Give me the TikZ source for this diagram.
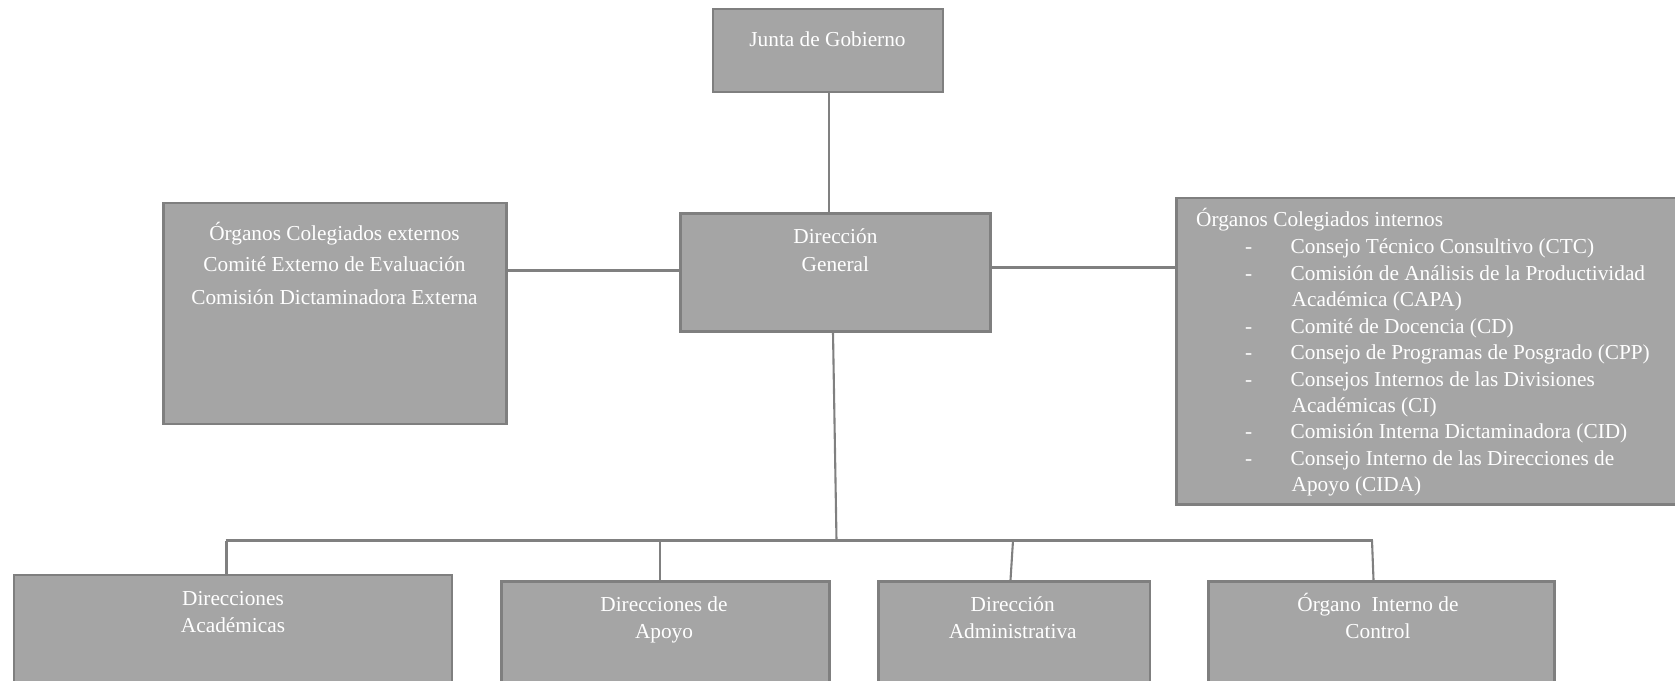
\documentclass[tikz,border=0pt]{standalone}
\usepackage{fontspec}
\setmainfont{Liberation Serif}
\definecolor{boxfill}{HTML}{A5A5A5}
\definecolor{boxline}{HTML}{7F7F7F}
\definecolor{conncol}{HTML}{808080}
\begin{document}
\begin{tikzpicture}[x=1pt,y=-1pt,
  box/.style={draw=boxline,fill=boxfill,line width=2.6pt,rectangle,inner sep=0pt},
  conn/.style={draw=conncol,line width=2.1pt},
  txt/.style={text=white,font=\fontsize{21.3}{26.5}\selectfont,inner sep=0pt,anchor=base},
  ltxt/.style={txt,anchor=base west}]
\useasboundingbox (0,0) rectangle (1675,680);
% boxes
\node[box,minimum width=230,minimum height=83] (junta) at (828,50.5) {};
\node[box,minimum width=310,minimum height=117.5] (dg) at (835.4,272.5) {};
\node[box,minimum width=343,minimum height=221] (ext) at (335,313.5) {};
\node[box,minimum width=510,minimum height=306.5,anchor=north west] (int) at (1175,196.6) {};
\node[box,minimum width=438,minimum height=112,anchor=north west] (dacad) at (12.8,573.7) {};
\node[box,minimum width=328,minimum height=106,anchor=north west] (dapoyo) at (500,580) {};
\node[box,minimum width=271.5,minimum height=106,anchor=north west] (dadmin) at (877,580) {};
\node[box,minimum width=346,minimum height=106,anchor=north west] (oic) at (1207,580) {};
% connectors
\coordinate (bc) at (836.5,540.5);
\coordinate (b1) at (226.5,540.5);
\coordinate (b2) at (660,540.5);
\coordinate (b3) at (1013,540.5);
\coordinate (b4) at (1372,540.5);
\draw[conn] (junta.south -| 829,0) -- (829,0 |- dg.north);
\draw[conn] ([yshift=2pt]dg.west) -- ([yshift=2pt]dg.west -| ext.east);
\draw[conn] ([yshift=5pt]dg.east) -- ([yshift=5pt]dg.east -| int.west);
\draw[conn] (dg.south -| 833,0) -- (bc);
\draw[conn] ([xshift=-1pt]b1) -- ([xshift=1pt]b4);
\draw[conn] (b1) -- (b1 |- dacad.north);
\draw[conn] (b2) -- (b2 |- dapoyo.north);
\draw[conn] (b3) -- ([xshift=-2.5pt]b3 |- dadmin.north);
\draw[conn] (b4) -- ([xshift=1.5pt]b4 |- oic.north);
% texts
\node[txt] (tjunta) at (827.5,46.7) {Junta de Gobierno};
\node[txt] (tdg1) at (835.4,243) {Dirección};
\node[txt] (tdg2) at (835.4,271) {General};
\node[txt] (text1) at (334.5,240) {Órganos Colegiados externos};
\node[txt] (text2) at (334.5,271.7) {Comité Externo de Evaluación};
\node[txt] (text3) at (334.5,304) {Comisión Dictaminadora Externa};
\node[ltxt] (tint0) at (1196,226) {Órganos Colegiados internos};
\foreach \y/\t [count=\i] in {
  253.3/{Consejo Técnico Consultivo (CTC)},
  280/{Comisión de Análisis de la Productividad},
  333.3/{Comité de Docencia (CD)},
  359.8/{Consejo de Programas de Posgrado (CPP)},
  386.3/{Consejos Internos de las Divisiones},
  438.8/{Comisión Interna Dictaminadora (CID)},
  465.3/{Consejo Interno de las Direcciones de}}{
  \node[ltxt] (dash\i) at (1245,\y) {-};
  \node[ltxt] (item\i) at (1290.5,\y) {\t};
}
\node[ltxt] (cont1) at (1291.5,306.7) {Académica (CAPA)};
\node[ltxt] (cont2) at (1291.5,412.3) {Académicas (CI)};
\node[ltxt] (cont3) at (1291.5,491.3) {Apoyo (CIDA)};
\node[txt] (tda1) at (233,605) {Direcciones};
\node[txt] (tda2) at (233,632.7) {Académicas};
\node[txt] (tdp1) at (664,611) {Direcciones de};
\node[txt] (tdp2) at (664,638.3) {Apoyo};
\node[txt] (tdd1) at (1012.7,611) {Dirección};
\node[txt] (tdd2) at (1012.7,638.3) {Administrativa};
\node[txt] (toi1) at (1378,611) {Órgano\ \ Interno de};
\node[txt] (toi2) at (1378,638.3) {Control};
\end{tikzpicture}
\end{document}
